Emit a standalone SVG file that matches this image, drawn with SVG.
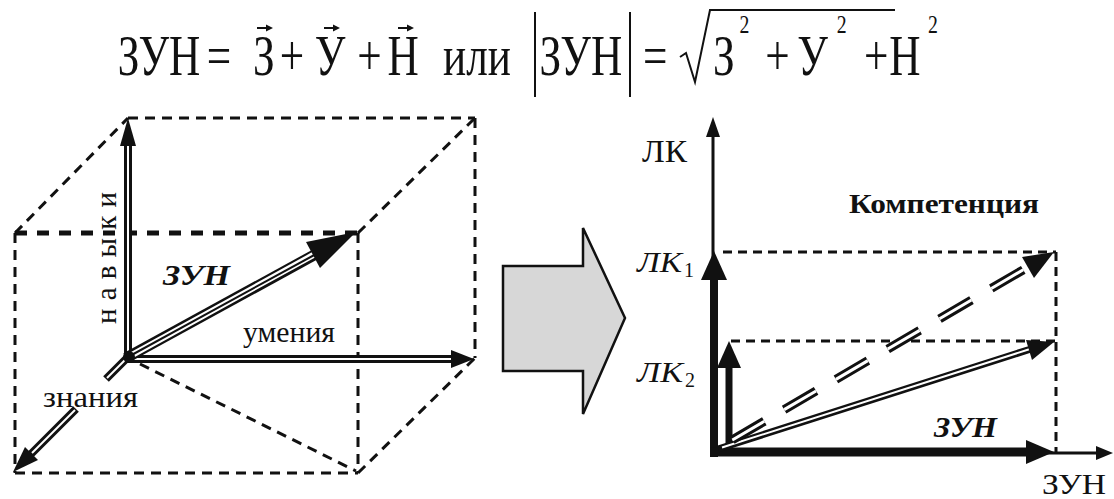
<svg xmlns="http://www.w3.org/2000/svg" width="1114" height="499" viewBox="0 0 1114 499" font-family="'Liberation Serif', 'DejaVu Serif', serif">
<style>
text{font-family:'Liberation Serif','DejaVu Serif',serif;fill:#111}
.sup{font-size:26px}
.lbl{font-size:30px}
.it{font-style:italic}
.b{font-weight:bold}
.dl{fill:none;stroke:#111;stroke-width:3;stroke-dasharray:10 7}
.dlb{fill:none;stroke:#111;stroke-width:5;stroke-dasharray:12 10}
.dr{fill:none;stroke:#111;stroke-width:3;stroke-dasharray:9 6}
.ln{fill:none;stroke:#111;stroke-width:2}
.ob{fill:none;stroke:#111;stroke-width:8}
.ib{fill:none;stroke:#fff;stroke-width:2}
.head{fill:#111;stroke:none}
</style>
<rect width="1114" height="499" fill="#fff"/>

<g id="formula">
  <text transform="translate(0,75) scale(0.76,1)" font-size="57"><tspan x="155" y="0">ЗУН</tspan><tspan x="272" y="0">=</tspan><tspan x="333" y="0">З</tspan><tspan x="368" y="0">+</tspan><tspan x="414" y="0">У</tspan><tspan x="470" y="0">+</tspan><tspan x="510" y="0">Н</tspan><tspan x="583" y="0">или</tspan><tspan x="710" y="0">ЗУН</tspan><tspan x="846" y="0">=</tspan><tspan x="938" y="0">З</tspan><tspan class="sup" x="973" y="-42">2</tspan><tspan x="1007" y="0">+</tspan><tspan x="1049" y="0">У</tspan><tspan class="sup" x="1101" y="-42">2</tspan><tspan x="1137" y="0">+</tspan><tspan x="1170" y="0">Н</tspan><tspan class="sup" x="1221" y="-42">2</tspan></text>
  <line class="ln" x1="535" y1="12" x2="535" y2="97"/>
  <line class="ln" x1="630" y1="12" x2="630" y2="97"/>
  <path class="ln" d="M680,57 L686,53 L695,82 L710,10 L895,10"/>
  <g id="vec-arrows">
    <line class="ln" x1="257" y1="28" x2="269" y2="28"/>
    <polygon class="head" points="273,28 266,24.5 266,31.5"/>
    <line class="ln" x1="324" y1="28" x2="336" y2="28"/>
    <polygon class="head" points="340,28 333,24.5 333,31.5"/>
    <line class="ln" x1="398" y1="28" x2="410" y2="28"/>
    <polygon class="head" points="414,28 407,24.5 407,31.5"/>
  </g>
</g>

<g id="cube">
  <line class="dl" x1="128" y1="118" x2="475" y2="118"/>
  <line class="dl" x1="475" y1="118" x2="475" y2="358"/>
  <line class="dl" x1="15" y1="233" x2="128" y2="118"/>
  <line class="dl" x1="358" y1="233" x2="475" y2="118"/>
  <line class="dl" x1="358" y1="473" x2="475" y2="358"/>
  <line class="dlb" x1="15" y1="233" x2="358" y2="233"/>
  <line class="dl" x1="15" y1="233" x2="15" y2="473"/>
  <line class="dl" x1="15" y1="473" x2="358" y2="473"/>
  <line class="dl" x1="358" y1="233" x2="358" y2="473"/>
  <line class="dl" x1="140" y1="364" x2="356" y2="471"/>
</g>

<g id="left-labels">
  <text id="navyki" x="116" y="324" font-size="29" transform="rotate(-90 116 324)" textLength="132" lengthAdjust="spacing">навыки</text>
  <text id="zun-left" class="lbl it b" x="163" y="285" textLength="67" lengthAdjust="spacingAndGlyphs">ЗУН</text>
  <text id="umeniya" x="243" y="342" font-size="29" textLength="92" lengthAdjust="spacingAndGlyphs">умения</text>
  <text id="znaniya" class="lbl" x="43" y="407" textLength="95" lengthAdjust="spacingAndGlyphs">знания</text>
</g>

<g id="big-arrow">
  <polygon points="503,266 583,266 583,228 625,318 583,414 583,371 503,371" fill="#d7d7d7" stroke="#111" stroke-width="2.5" stroke-linejoin="miter"/>
</g>

<g id="right-labels">
  <text id="lk-axis" x="642" y="162" font-size="31" textLength="45" lengthAdjust="spacingAndGlyphs">ЛК</text>
  <text id="kompetenciya" class="b" x="849" y="213" font-size="27" textLength="190" lengthAdjust="spacingAndGlyphs">Компетенция</text>
  <g id="lk1">
    <text class="it" x="637" y="272" font-size="29" textLength="45" lengthAdjust="spacingAndGlyphs">ЛК</text>
    <text x="684" y="277" font-size="20">1</text>
  </g>
  <g id="lk2">
    <text class="it" x="637" y="382" font-size="29" textLength="46" lengthAdjust="spacingAndGlyphs">ЛК</text>
    <text x="685" y="387" font-size="20">2</text>
  </g>
  <text id="zun-right" class="lbl it b" x="934" y="437" textLength="63" lengthAdjust="spacingAndGlyphs">ЗУН</text>
  <text id="zun-axis" class="lbl" x="1042" y="494" textLength="64" lengthAdjust="spacingAndGlyphs">ЗУН</text>
</g>

<g id="right-guides">
  <line class="dr" x1="723" y1="252" x2="1056" y2="252"/>
  <line class="dr" x1="731" y1="341" x2="1056" y2="341"/>
  <line class="dr" x1="1056" y1="252" x2="1056" y2="453"/>
</g>

<g id="connectors">
  <line class="ob" x1="128" y1="361" x2="128" y2="140"/>
  <line class="ib" x1="128" y1="358" x2="128" y2="142"/>
  <polygon class="head" points="128,118 120,146 136,146"/>
  <line class="ob" x1="124" y1="359" x2="455" y2="359"/>
  <line class="ib" x1="132" y1="359" x2="453" y2="359"/>
  <polygon class="head" points="474,359 451,350 451,368"/>
  <line class="ob" x1="128" y1="357" x2="106" y2="379" stroke-width="7"/>
  <line class="ib" x1="126" y1="359" x2="107" y2="378"/>
  <line class="ob" x1="76" y1="409" x2="30" y2="455" stroke-width="7"/>
  <line class="ib" x1="75" y1="410" x2="32" y2="453"/>
  <polygon class="head" points="13,472 25,447 38,460"/>
  <line x1="126" y1="358" x2="316" y2="254" stroke="#111" stroke-width="11"/>
  <line x1="132" y1="355" x2="315" y2="254" stroke="#fff" stroke-width="6"/>
  <line x1="128" y1="357" x2="316" y2="254" stroke="#111" stroke-width="2"/>
  <polygon class="head" points="356,232 306,242 320,268"/>
  <circle cx="129" cy="357" r="6" fill="#111"/>

  <line x1="713" y1="456" x2="713" y2="130" stroke="#111" stroke-width="3"/>
  <polygon class="head" points="713,117 706,137 720,137"/>
  <line x1="713" y1="453" x2="1100" y2="453" stroke="#111" stroke-width="3"/>
  <polygon class="head" points="1113,453 1096,446 1096,460"/>
  <line x1="714" y1="457" x2="714" y2="276" stroke="#111" stroke-width="8"/>
  <polygon class="head" points="714,251 701,280 727,280"/>
  <line x1="729" y1="456" x2="729" y2="365" stroke="#111" stroke-width="7"/>
  <polygon class="head" points="729,341 717,368 741,368"/>
  <line x1="710" y1="452" x2="1030" y2="452" stroke="#111" stroke-width="9"/>
  <polygon class="head" points="1054,452 1026,440 1026,464"/>
  <line x1="718" y1="449" x2="1031" y2="349" stroke="#111" stroke-width="7"/>
  <line x1="722" y1="447.5" x2="1030" y2="349" stroke="#fff" stroke-width="2"/>
  <polygon class="head" points="1054,342 1026,340 1032,360"/>
  <line x1="722" y1="446" x2="1028" y2="267" stroke="#111" stroke-width="9" stroke-dasharray="37 23" stroke-dashoffset="-12"/>
  <line x1="722" y1="446" x2="1028" y2="267" stroke="#fff" stroke-width="3" stroke-dasharray="37 23" stroke-dashoffset="-12"/>
  <polygon class="head" points="1054,252 1022,257 1034,278"/>
</g>
</svg>
